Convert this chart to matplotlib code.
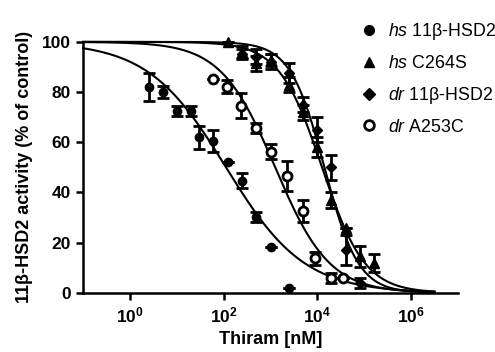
import numpy as np
import matplotlib
matplotlib.use("Agg")
import matplotlib.pyplot as plt
from matplotlib.lines import Line2D

plt.rcParams['font.family'] = ['Liberation Sans', 'DejaVu Sans']
plt.rcParams['mathtext.fontset'] = 'custom'
plt.rcParams['mathtext.rm'] = 'Liberation Sans'
plt.rcParams['mathtext.it'] = 'Liberation Sans:italic'
plt.rcParams['mathtext.bf'] = 'Liberation Sans:bold'

# hs 11b-HSD2 (filled circles)
hs_x = [2.5, 5, 10, 20, 30, 60, 125, 250, 500, 1000, 2500]
hs_y = [82, 80, 72.5, 72.5, 62, 60.5, 52, 44.7, 30.4, 18.2, 2.1]
hs_err = [5.5, 2.5, 2, 2, 4.5, 4.5, 0, 3, 2, 0, 0]

# hs C264S (triangles)
c264_x = [125, 250, 500, 1000, 2500, 5000, 10000, 20000, 40000, 80000, 160000]
c264_y = [100, 96, 91.5, 92.8, 83, 72, 58, 37, 26, 14.5, 11.8]
c264_err = [0, 2.5, 3, 2.5, 3, 3, 4, 3, 0, 4, 3.5]

# dr 11b-HSD2 (diamonds)
dr_x = [250, 500, 1000, 2500, 5000, 10000, 20000, 40000, 80000]
dr_y = [95, 94, 92, 87.5, 75, 65, 50, 17, 4]
dr_err = [2, 3, 3, 4, 3, 5, 5, 6, 2]

# dr A253C (open circles)
a253_x = [60, 115, 240, 480, 1000, 2300, 5000, 9100, 20000, 36000]
a253_y = [85.1, 82.2, 74.5, 65.6, 56.3, 46.6, 32.7, 13.8, 6.1, 6.1]
a253_err = [0, 2.7, 5, 2, 3, 6, 4.5, 2.5, 2, 0]

# fitted curves: log10 IC50, hill slope
fit_logic50 = [2.05, 4.1, 4.15, 3.1]
fit_hill = [0.52, 0.95, 1.2, 0.75]

fig = plt.figure(figsize=(4.95, 3.52), dpi=100)
ax = fig.add_axes([0.168, 0.168, 0.757, 0.713])

xs = np.logspace(-1, 6.5, 400)
for lic, h in zip(fit_logic50, fit_hill):
    yc = 100 / (1 + (xs / 10 ** lic) ** h)
    ax.plot(xs, yc, color='black', lw=1.5, clip_on=False, zorder=2)

series = [
    (hs_x, hs_y, hs_err, dict(marker='o', ms=6, mfc='black', mec='black')),
    (c264_x, c264_y, c264_err, dict(marker='^', ms=6.5, mfc='black', mec='black')),
    (dr_x, dr_y, dr_err, dict(marker='D', ms=5.5, mfc='black', mec='black')),
    (a253_x, a253_y, a253_err, dict(marker='o', ms=6.5, mfc='white', mec='black', mew=2)),
]
for x, y, e, st in series:
    ax.errorbar(x, y, yerr=e, fmt='none', ecolor='black', elinewidth=2,
                capsize=4, capthick=2, clip_on=False, zorder=3)
    ax.plot(x, y, ls='none', clip_on=False, zorder=4, **st)

ax.set_xscale('log')
ax.set_xlim(10 ** -1, 10 ** 7)
ax.set_ylim(0, 100)
ax.set_xticks([1, 1e2, 1e4, 1e6])
ax.set_xticklabels([r'$\mathbf{10^{0}}$', r'$\mathbf{10^{2}}$', r'$\mathbf{10^{4}}$', r'$\mathbf{10^{6}}$'])
ax.xaxis.set_minor_locator(matplotlib.ticker.NullLocator())
ax.set_yticks([0, 20, 40, 60, 80, 100])
ax.tick_params(axis='both', which='major', direction='out', length=5, width=1.8,
               labelsize=12.5, pad=4)
for lab in ax.get_yticklabels():
    lab.set_fontweight('bold')
for s in ['top', 'right']:
    ax.spines[s].set_visible(False)
for s in ['left', 'bottom']:
    ax.spines[s].set_linewidth(1.8)

ax.set_xlabel('Thiram [nM]', fontsize=13, fontweight='bold', labelpad=4)
ax.set_ylabel('11β-HSD2 activity (% of control)', fontsize=13, fontweight='bold', labelpad=6)

handles = [
    Line2D([], [], ls='none', marker='o', ms=7, mfc='black', mec='black'),
    Line2D([], [], ls='none', marker='^', ms=7, mfc='black', mec='black'),
    Line2D([], [], ls='none', marker='D', ms=6, mfc='black', mec='black'),
    Line2D([], [], ls='none', marker='o', ms=7, mfc='white', mec='black', mew=2),
]
labels = [r'$\it{hs}$ 11β-HSD2', r'$\it{hs}$ C264S', r'$\it{dr}$ 11β-HSD2', r'$\it{dr}$ A253C']
fig.legend(handles, labels, loc='upper left', bbox_to_anchor=(0.71, 0.965),
           frameon=False, fontsize=12.8, handlelength=1.0, handletextpad=0.55,
           labelspacing=0.72, borderpad=0)

fig.savefig('out.png', dpi=100)
